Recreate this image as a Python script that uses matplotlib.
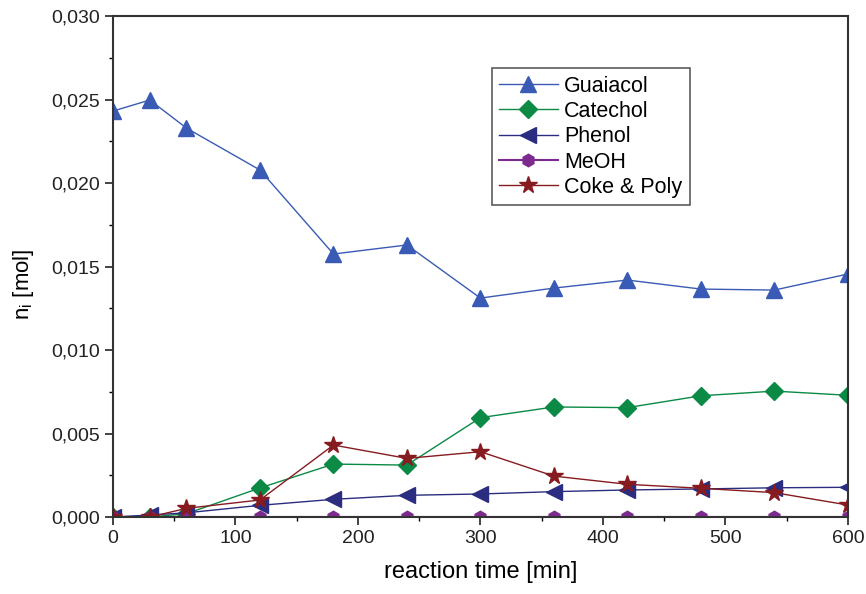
import matplotlib
matplotlib.use("Agg")
import matplotlib.pyplot as plt
from matplotlib.ticker import MultipleLocator, FuncFormatter

plt.rcParams['font.family'] = ['Liberation Sans', 'DejaVu Sans']

t = [0, 30, 60, 120, 180, 240, 300, 360, 420, 480, 540, 600]
guaiacol = [0.02431, 0.02497, 0.02329, 0.02078, 0.01575, 0.01629,
            0.01311, 0.01371, 0.01419, 0.01365, 0.01359, 0.01455]
catechol = [0.0, 0.0, 0.0002, 0.00174, 0.00317, 0.00311,
            0.00595, 0.00659, 0.00655, 0.00726, 0.00754, 0.00729]
phenol = [0.0, 0.00012, 0.00025, 0.0007, 0.00106, 0.0013,
          0.00138, 0.00152, 0.00162, 0.00168, 0.00175, 0.00178]
meoh = [0.0] * 12
coke = [0.0, 0.0, 0.00052, 0.00102, 0.00431, 0.00351,
        0.00391, 0.00245, 0.00196, 0.00172, 0.00146, 0.00072]

fig = plt.figure(figsize=(8.66, 5.94), dpi=100)
ax = fig.add_axes([0.1305, 0.1296, 0.8485, 0.8434])

ax.plot(t, guaiacol, color='#3a5bb5', lw=1, marker='^', ms=11, label='Guaiacol')
ax.plot(t, catechol, color='#0a8a45', lw=1, marker='D', ms=9, label='Catechol')
ax.plot(t, phenol, color='#2a2d80', lw=1, marker='<', ms=11, label='Phenol')
ax.plot(t, meoh, color='#7d2a8e', lw=1.5, marker='h', ms=9, label='MeOH')
ax.plot(t, coke, color='#861b20', lw=1, marker='*', ms=13, label='Coke & Poly')

ax.set_xlim(0, 600)
ax.set_ylim(0, 0.030)
ax.xaxis.set_major_locator(MultipleLocator(100))
ax.xaxis.set_minor_locator(MultipleLocator(50))
ax.yaxis.set_major_locator(MultipleLocator(0.005))
ax.yaxis.set_minor_locator(MultipleLocator(0.0025))
ax.yaxis.set_major_formatter(FuncFormatter(lambda v, p: f'{v:.3f}'.replace('.', ',')))

ax.tick_params(which='major', direction='out', length=6, width=1.2, labelsize=14, colors='#222222')
ax.tick_params(which='minor', direction='out', length=3, width=1)
for s in ax.spines.values():
    s.set_linewidth(1.5)
    s.set_color('#333333')

ax.set_xlabel('reaction time [min]', fontsize=17, labelpad=10)
ax.set_ylabel(r'n$_\mathregular{i}$ [mol]', fontsize=16)
ax.yaxis.set_label_coords(-0.105, 0.465)

leg = ax.legend(loc='upper left', bbox_to_anchor=(0.5156, 0.896), fontsize=15.5,
                frameon=True, fancybox=False, edgecolor='#333333',
                handlelength=2.7, handletextpad=0.3, labelspacing=0.2,
                borderpad=0.35, borderaxespad=0)
leg.get_frame().set_linewidth(1.2)

fig.savefig('out.png', dpi=100)
